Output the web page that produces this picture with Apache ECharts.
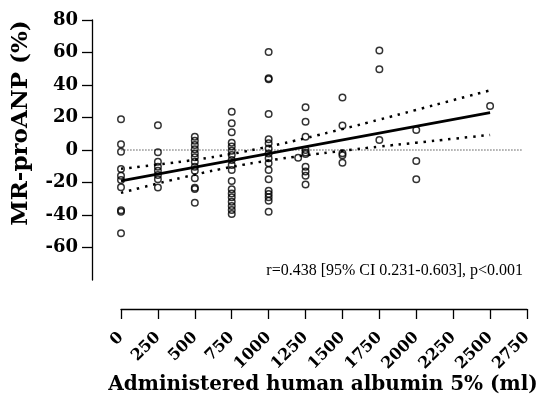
<!DOCTYPE html>
<html><head><meta charset="utf-8">
<script src="https://cdn.jsdelivr.net/npm/echarts@6/dist/echarts.min.js"></script>
<style>html,body{margin:0;padding:0;background:#fff}#c{width:543px;height:415px}</style>
</head><body><div id="c"></div>
<script>
// Scatter data: administered albumin (ml) and MR-proANP change (%)
const doseGroups = [0, 250, 500, 750, 1000, 1200, 1250, 1500, 1750, 2000, 2500];
const mrproanpByGroup = [
  [19, 3.5, -1, -11.7, -15.8, -18.5, -22.9, -37, -38, -51.3],
  [15.2, -1.4, -7.2, -10.3, -12.7, -15.4, -18, -23],
  [8.2, 5.7, 3.1, 0.4, -2.1, -4.5, -7.2, -10.3, -12.7, -17.4, -23.2, -24, -32.4],
  [23.6, 16.4, 10.9, 4.5, 2.1, -0.4, -3.1, -6.2, -9.2, -12.3, -19.1, -24.2, -26.7, -29.1, -31.8, -34.5, -36.9, -39.4],
  [60.3, 43.5, 44.2, 22.2, 6.6, 4.1, 1, -2.1, -5.1, -8.2, -12.3, -18, -25, -27, -29.1, -31.2, -38],
  [-4.7],
  [26.3, 17.4, 8.2, 0, -1.6, -2.5, -10.3, -13.3, -15.8, -21.2],
  [32.3, 15.1, -2, -3.3, -7.9],
  [61.2, 49.7, 6.2],
  [12.3, -6.8, -18],
  [27.1]
];
// Regression line and 95% confidence band
const fitX = [0, 2500];
const fitY = [-19, 23];
const ciX = [0, 250, 500, 750, 1000, 1250, 1500, 1750, 2000, 2250, 2500];
const ciUpper = [-11.6, -9.0, -6.0, -2.4, 2.1, 7.3, 12.9, 18.7, 24.7, 30.7, 36.7];
const ciLower = [-26.4, -20.6, -15.2, -10.4, -6.5, -3.3, -0.5, 2.1, 4.5, 6.9, 9.3];
// Zero reference line extent
const zeroLineX = [-180, 2723];
const xTicks = [0, 250, 500, 750, 1000, 1250, 1500, 1750, 2000, 2250, 2500, 2750];
const yTicks = [-60, -40, -20, 0, 20, 40, 60, 80];

const points = [];
doseGroups.forEach((d, i) => mrproanpByGroup[i].forEach(v => points.push([d, v])));
const zip = (a, b) => a.map((x, i) => [x, b[i]]);

const boldFont = 'DejaVu Serif';
const chart = echarts.init(document.getElementById('c'), null, {renderer: 'canvas'});
chart.setOption({
  animation: false,
  backgroundColor: '#fff',
  grid: {left: 121, right: 16, top: 20, bottom: 135},
  xAxis: {
    type: 'value', min: 0, max: 2750, interval: 250, offset: 29,
    splitLine: {show: false},
    axisLine: {show: true, onZero: false, lineStyle: {color: '#000', width: 1.3}},
    axisTick: {show: true, length: 10, lineStyle: {color: '#000', width: 1.3}, customValues: xTicks},
    axisLabel: {rotate: 45, margin: 26, color: '#000', fontFamily: boldFont, fontWeight: 'bold', fontSize: 16,
      customValues: xTicks, formatter: v => String(v)}
  },
  yAxis: {
    type: 'value', min: -80, max: 80, interval: 20, offset: 29,
    splitLine: {show: false},
    axisLine: {show: true, onZero: false, lineStyle: {color: '#000', width: 1.3}},
    axisTick: {show: true, length: 10, lineStyle: {color: '#000', width: 1.3}, customValues: yTicks},
    axisLabel: {margin: 14, color: '#000', fontFamily: boldFont, fontWeight: 'bold', fontSize: 18,
      customValues: yTicks, formatter: v => String(v)}
  },
  series: [
    {type: 'line', data: zip(zeroLineX, [0, 0]), clip: false, symbol: 'none', silent: true,
     lineStyle: {color: '#000', width: 1, type: [1, 2]}},
    {type: 'line', data: zip(ciX, ciUpper), smooth: true, symbol: 'none',
     lineStyle: {color: '#000', width: 2.5, type: [2.5, 5.8]}},
    {type: 'line', data: zip(ciX, ciLower), smooth: true, symbol: 'none',
     lineStyle: {color: '#000', width: 2.5, type: [2.5, 5.8]}},
    {type: 'line', data: zip(fitX, fitY), symbol: 'none', lineStyle: {color: '#000', width: 2.6}},
    {type: 'scatter', data: points, symbol: 'circle', symbolSize: 6.5, z: 5,
     itemStyle: {color: 'rgba(255,255,255,0)', borderColor: '#000', borderWidth: 1.5}}
  ],
  graphic: [
    {type: 'text', x: 21, y: 123, rotation: Math.PI / 2,
     style: {text: 'MR-proANP (%)', fill: '#000', font: 'bold 23px "DejaVu Serif"', align: 'center', verticalAlign: 'middle'}},
    {type: 'text', x: 323, y: 385,
     style: {text: 'Administered human albumin 5% (ml)', fill: '#000', font: 'bold 20px "DejaVu Serif"', align: 'center', verticalAlign: 'middle'}},
    {type: 'text', x: 523, y: 271,
     style: {text: 'r=0.438 [95% CI 0.231-0.603], p<0.001', fill: '#000', font: '16px "Liberation Serif"', align: 'right', verticalAlign: 'middle'}}
  ]
});
</script></body></html>
